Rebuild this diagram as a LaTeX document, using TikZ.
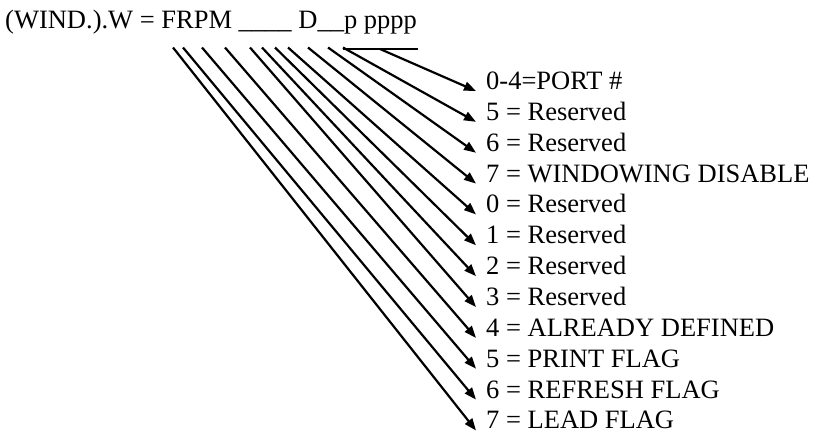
\documentclass[tikz,border=0pt]{standalone}
\usepackage{fontspec}
\setmainfont{Liberation Serif}
\usetikzlibrary{arrows.meta}
\begin{document}
\begin{tikzpicture}[x=1pt,y=-1pt,
  txt/.style={inner sep=0pt,anchor=base west,font=\fontsize{26.5}{30}\selectfont},
  conn/.style={line width=2.2pt,-{Triangle[length=12pt,width=9pt]}},
  lin/.style={line width=2.2pt}]
\useasboundingbox (0,0) rectangle (813,434);
\node[txt] (title) at (5,28) {(WIND.).W = FRPM \_\_\_\_ D\_\_p pppp};
% labels
\foreach \t [count=\i from 0] in {0-4=PORT \#,5 = Reserved,6 = Reserved,7 = WINDOWING DISABLE,0 = Reserved,1 = Reserved,2 = Reserved,3 = Reserved,4 = ALREADY DEFINED,5 = PRINT FLAG,6 = REFRESH FLAG,7 = LEAD FLAG}
  \node[txt] (l\i) at (486,{89.5+30.86*\i}) {\t};
% start points
\coordinate (s0) at (380,49);
\foreach \x [count=\i from 1] in {343,328,308,288,275,262,250,225,202,183,173}
  \coordinate (s\i) at (\x,47.5);
% bracket under pppp
\coordinate (b0) at (343,49);
\coordinate (b1) at (418,49);
\draw[lin] (b0) -- (b1);
% arrows
\foreach \i in {0,...,11}
  \draw[conn] (s\i) -- ([xshift=-10pt,yshift=-1.5pt]l\i.base west);
\end{tikzpicture}
\end{document}
